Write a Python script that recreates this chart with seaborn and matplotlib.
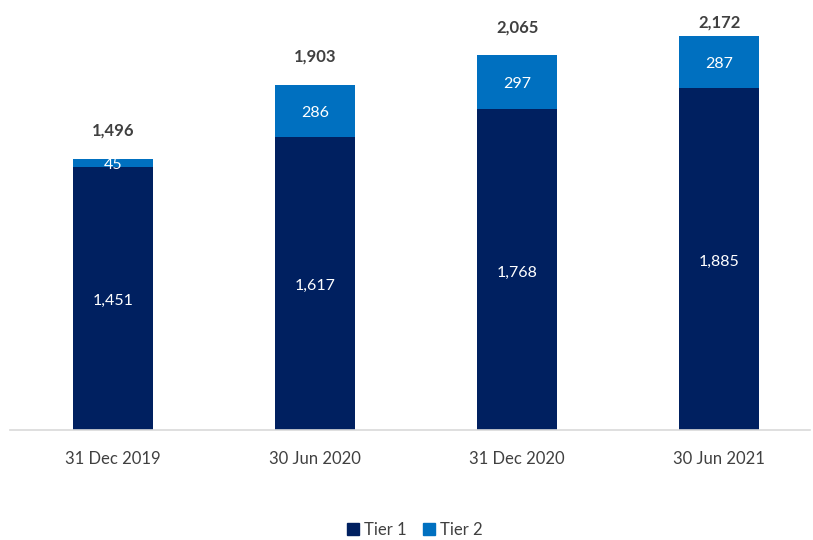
import matplotlib
matplotlib.use("Agg")
import matplotlib.pyplot as plt
import seaborn as sns
import pandas as pd
from matplotlib.patches import Patch

# data
periods = ["31 Dec 2019", "30 Jun 2020", "31 Dec 2020", "30 Jun 2021"]
tier1 = [1451, 1617, 1768, 1885]
tier2 = [45, 286, 297, 287]

c_tier1 = "#002060"
c_tier2 = "#0070C0"
c_text = "#404040"

sns.set_theme(style="white")
plt.rcParams["font.family"] = ["Lato", "DejaVu Sans"]

df = pd.DataFrame({"period": periods, "tier1": tier1, "tier2": tier2})
df["total"] = df["tier1"] + df["tier2"]

px_per_unit = 0.1814
fig = plt.figure(figsize=(8.13, 5.40), dpi=100)
ax = fig.add_axes([10 / 813, 110 / 540, 800 / 813, 410 / 540])

# stacked bars: total in tier 2 colour, tier 1 drawn over it
sns.barplot(data=df, x="period", y="total", color=c_tier2, width=0.4,
            saturation=1, ax=ax, linewidth=0)
sns.barplot(data=df, x="period", y="tier1", color=c_tier1, width=0.4,
            saturation=1, ax=ax, linewidth=0)

ymax = 410 / px_per_unit
ax.set_xlim(-0.51, 3.45)
ax.set_ylim(0, ymax)

for i, row in df.iterrows():
    ax.annotate(f"{row['tier1']:,}", (i, row["tier1"] / 2), xytext=(0, -2),
                textcoords="offset points", ha="center", va="center",
                color="white", fontsize=11.5)
    ax.annotate(f"{row['tier2']:,}", (i, row["tier1"] + row["tier2"] / 2),
                xytext=(0, -1.5), textcoords="offset points", ha="center",
                va="center", color="white", fontsize=11.5)
    # total label above the bar, kept inside the plot area
    y_tot = min(row["total"] + 28 / px_per_unit, ymax - 3 / px_per_unit)
    ax.text(i, y_tot, f"{row['total']:,}", ha="center", va="center",
            color=c_text, fontsize=12, fontweight="bold", zorder=5)

ax.set_xlabel("")
ax.set_ylabel("")
ax.set_yticks([])
for s in ["top", "right", "left"]:
    ax.spines[s].set_visible(False)
ax.spines["bottom"].set_color("#D9D9D9")
ax.spines["bottom"].set_linewidth(1.2)
ax.tick_params(axis="x", length=0, pad=15, labelsize=12, labelcolor=c_text)

handles = [Patch(color=c_tier1, label="Tier 1"), Patch(color=c_tier2, label="Tier 2")]
fig.legend(handles=handles, loc="center", bbox_to_anchor=(0.51, 1 - 530 / 540),
           ncol=2, frameon=False, fontsize=12, handlelength=0.7, handleheight=0.7,
           handletextpad=0.3, columnspacing=1.0, labelcolor=c_text)

fig.savefig("out.png", dpi=100)
